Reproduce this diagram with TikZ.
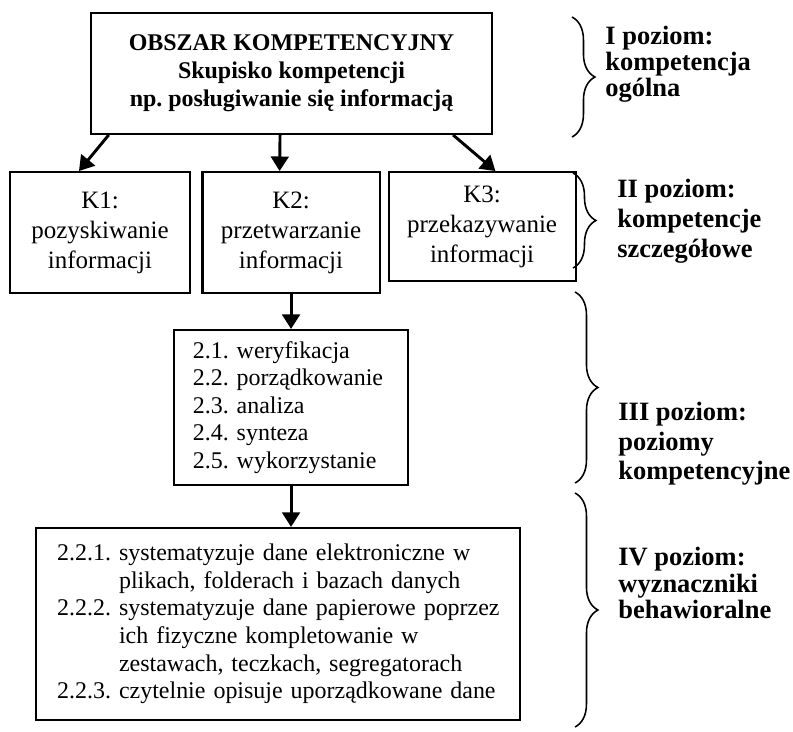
\documentclass[tikz,border=0pt]{standalone}
\usepackage{fontspec}
\setmainfont{Liberation Serif}
\usetikzlibrary{arrows.meta, positioning, decorations.pathreplacing}
\frenchspacing

\begin{document}
\begin{tikzpicture}[x=0.48pt, y=-0.48pt, >={Triangle[length=7pt,width=8.5pt]},
  main box/.style={rectangle, draw, line width=1pt, align=center,
  font=\fontsize{11.5}{13.4}\selectfont\bfseries, minimum width=192.5pt, minimum height=58pt},
  kbox/.style={rectangle, draw, line width=1pt, align=center,
  font=\fontsize{12}{14.4}\selectfont, minimum height=58pt},
  list box/.style={rectangle, draw, line width=1pt, align=left, inner xsep=9pt},
  level/.style={anchor=west, align=left, inner sep=0pt, font=\fontsize{12.7}{12.7}\selectfont\bfseries},
  lbrace/.style={decorate, decoration={brace, amplitude=11pt}, line width=0.75pt}]
  \useasboundingbox (0,0) rectangle (793,731);

  \node[main box] (O) at (291.5,73.5) {OBSZAR KOMPETENCYJNY\\ Skupisko kompetencji\\ np. posługiwanie się informacją};
  \node[kbox, minimum width=86.4pt] (K1) at (100,232.5) {K1:\\ pozyskiwanie\\ informacji};
  \node[kbox, minimum width=85pt] (K2) [right=5pt of K1] {K2:\\ przetwarzanie\\ informacji};
  \node[kbox, minimum width=89.8pt, minimum height=52.3pt] (K3) [right=3.3pt of K2.north east, anchor=north west] {K3:\\ przekazywanie\\ informacji};
  \node[list box, text width=94.3pt, minimum height=74.4pt,
    font=\fontsize{11.5}{13.2}\selectfont] (W) [below=16.8pt of K2]
    {2.1. weryfikacja\\ 2.2. porządkowanie\\ 2.3. analiza\\ 2.4. synteza\\ 2.5. wykorzystanie};
  \node[list box, text width=212pt, inner xsep=10pt, minimum height=92.2pt,
    font=\fontsize{11.5}{13.3}\selectfont] (D) at (278,624)
    {\begin{tabular}{@{}l@{\ }l@{}}
      2.2.1. & systematyzuje dane elektroniczne w\\
             & plikach, folderach i bazach danych\\
      2.2.2. & systematyzuje dane papierowe poprzez\\
             & ich fizyczne kompletowanie w\\
             & zestawach, teczkach, segregatorach\\
      2.2.3. & czytelnie opisuje uporządkowane dane
    \end{tabular}};

  % poziomy
  \node[level, font=\fontsize{12.7}{12.5}\selectfont\bfseries] (L1) at (605,64) {I poziom:\\ kompetencja\\ ogólna};
  \node[level, font=\fontsize{12.7}{14.4}\selectfont\bfseries] (L2) at (617,221) {II poziom:\\ kompetencje\\ szczegółowe};
  \node[level, font=\fontsize{12.7}{14.2}\selectfont\bfseries] (L3) at (618,444) {III poziom:\\ poziomy\\ kompetencyjne};
  \node[level] (L4) at (618,583) {IV poziom:\\ wyznaczniki\\ behawioralne};

  \coordinate (b1t) at (572,17);  \coordinate (b1b) at (572,137);
  \coordinate (b2t) at (573,173); \coordinate (b2b) at (573,268);
  \coordinate (b3t) at (575,292); \coordinate (b3b) at (575,483);
  \coordinate (b4t) at (575,493); \coordinate (b4b) at (575,727);
  \draw[lbrace] (b1t) -- (b1b);
  \draw[lbrace] (b2t) -- (b2b);
  \draw[lbrace] (b3t) -- (b3b);
  \draw[lbrace] (b4t) -- (b4b);

  \path[every edge/.style={draw, ->, line width=1.4pt}]
    ([xshift=9pt]O.south west) edge ([xshift=33.6pt]K1.north west)
    ([xshift=-5.5pt]O.south) edge ([xshift=-5.5pt]K2.north)
    ([xshift=-19.2pt]O.south east) edge ([xshift=51.8pt]K3.north west)
    (K2) edge (W)
    (W.south) edge (W.south |- D.north);
\end{tikzpicture}
\end{document}
